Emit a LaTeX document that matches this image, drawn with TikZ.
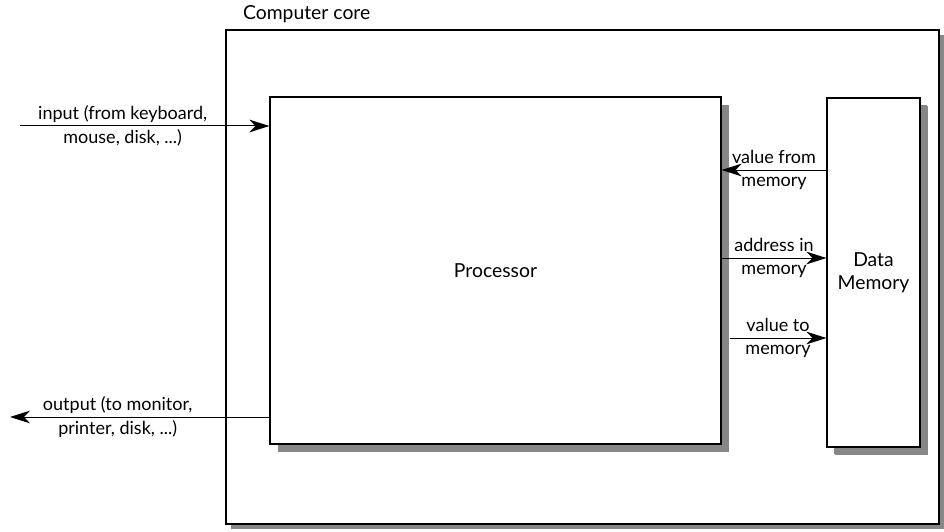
\documentclass[tikz,border=0pt]{standalone}
\usepackage{fontspec}
\setmainfont{Lato}
\usetikzlibrary{arrows.meta,shadows}

\begin{document}
\begin{tikzpicture}[
    x=0.75pt, y=-0.75pt,
    font=\fontsize{13.5}{17.5}\selectfont,
    >={Stealth[length=15pt,width=9.5pt,inset=4.5pt]},
    core/.style ={draw, line width=0.9pt, fill=white, inner sep=0pt,
                  minimum width=534.75pt, minimum height=370.5pt,
                  drop shadow={shadow xshift=3.75pt, shadow yshift=-3.75pt,
                               fill=black!47, opacity=1}},
    unit/.style ={draw, line width=0.9pt, fill=white, inner sep=0pt, align=center,
                  font=\fontsize{14.5}{17.5}\selectfont,
                  drop shadow={shadow xshift=6pt, shadow yshift=-6pt,
                               fill=black!47, opacity=1}},
    lbl/.style  ={align=center, inner sep=1pt},
    flow/.style ={->, line width=0.75pt},
  ]
  \useasboundingbox (0,0) rectangle (944,531);

  % ------------------------------------------------------------ boxes ---
  \node[core] (core) at (582.5,277) {};
  \node[anchor=base west, font=\fontsize{14.5}{17}\selectfont]
        at ([xshift=9.75pt, yshift=7.5pt]core.north west) {Computer core};

  \node[unit, minimum width=338.25pt, minimum height=260.25pt]
        (proc) at (495.5,270.5) {Processor};
  \node[unit, minimum width=69.75pt, minimum height=261.75pt,
        drop shadow={shadow xshift=5.25pt, shadow yshift=-5.25pt,
                     fill=black!47, opacity=1}]
        (mem) at (873.5,272.5) {Data\\Memory};

  % ------------------------------------------------------------ i/o ---
  \coordinate (inp)  at (20,126);
  \coordinate (outp) at (10,417);
  \draw[flow] (inp) -- (inp -| proc.west);
  \path (inp) -- (inp -| core.west)
        node[lbl, midway] {input (from keyboard,\\mouse, disk, ...)};
  \draw[flow] (outp -| proc.west) -- (outp);
  \path (outp) -- (outp -| core.west)
        node[lbl, midway] {output (to monitor,\\printer, disk, ...)};

  % --------------------------------------------------------- memory bus ---
  \coordinate (rd)   at (0,170);
  \coordinate (addr) at (0,258);
  \coordinate (wr)   at (0,338);
  \draw[flow] (rd -| mem.west) -- (rd -| proc.east)
        node[lbl, midway] {value from\\memory};
  \draw[flow] (addr -| proc.east) -- (addr -| mem.west)
        node[lbl, midway] {address in\\memory};
  \draw[flow] ([xshift=6pt]wr -| proc.east) -- (wr -| mem.west)
        node[lbl, midway] {value to\\memory};

\end{tikzpicture}
\end{document}
